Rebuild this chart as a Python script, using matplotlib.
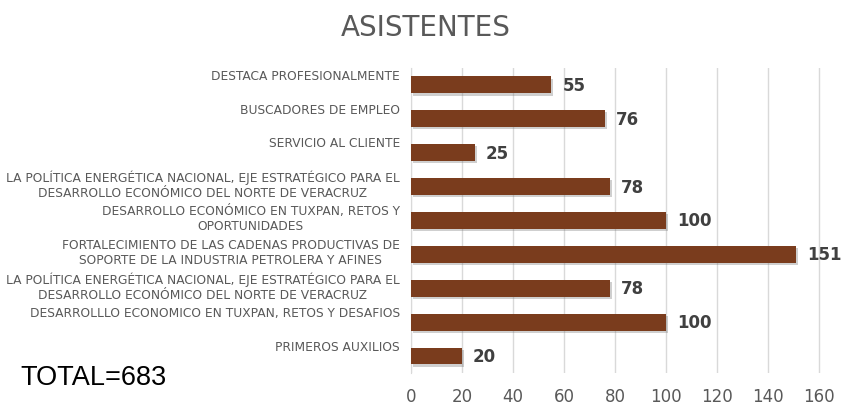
import matplotlib.pyplot as plt
import matplotlib.patheffects as pe

# data, top to bottom as in the chart
labels = [
    "DESTACA PROFESIONALMENTE",
    "BUSCADORES DE EMPLEO",
    "SERVICIO AL CLIENTE",
    "LA POLÍTICA ENERGÉTICA NACIONAL, EJE ESTRATÉGICO PARA EL\nDESARROLLO ECONÓMICO DEL NORTE DE VERACRUZ",
    "DESARROLLO ECONÓMICO EN TUXPAN, RETOS Y\nOPORTUNIDADES",
    "FORTALECIMIENTO DE LAS CADENAS PRODUCTIVAS DE\nSOPORTE DE LA INDUSTRIA PETROLERA Y AFINES",
    "LA POLÍTICA ENERGÉTICA NACIONAL, EJE ESTRATÉGICO PARA EL\nDESARROLLO ECONÓMICO DEL NORTE DE VERACRUZ",
    "DESARROLLLO ECONOMICO EN TUXPAN, RETOS Y DESAFIOS",
    "PRIMEROS AUXILIOS",
]
asistentes = [55, 76, 25, 78, 100, 151, 78, 100, 20]
xticks = [0, 20, 40, 60, 80, 100, 120, 140, 160]

plt.rcParams['font.family'] = ['DejaVu Sans']

fig = plt.figure(figsize=(8.43, 4.06), dpi=100)
ax = fig.add_axes([0.4875, 0.079, 0.4870, 0.751])

ypos = list(range(len(labels)))[::-1]
bars = ax.barh(ypos, asistentes, height=0.5, color='#7A3C1D', zorder=3)
for b in bars:
    b.set_path_effects([pe.SimplePatchShadow(offset=(1.5, -1.5), shadow_rgbFace='#777777', alpha=0.35),
                        pe.Normal()])

for y, v in zip(ypos, asistentes):
    ax.annotate(str(v), xy=(v, y), xytext=(8, 0), textcoords='offset points',
                ha='left', va='center', fontsize=12, fontweight='bold',
                color='#404040', annotation_clip=False)

# category labels sit a bit above the bars
for y, lab in zip(ypos, labels):
    dy = 1.5 if '\n' in lab else 7
    ax.annotate(lab, xy=(0, y), xycoords=('axes fraction', 'data'),
                xytext=(-8, dy), textcoords='offset points',
                ha='right', va='center', multialignment='center',
                fontsize=8.8, color='#595959', linespacing=1.2)

ax.set_xlim(0, 161)
ax.set_ylim(-0.5, len(labels) - 0.5)
ax.set_xticks(xticks)
ax.set_yticks([])
ax.tick_params(axis='x', length=0, pad=10, labelsize=12, labelcolor='#595959')
ax.grid(axis='x', color='#D9D9D9', linewidth=1, zorder=0)
for s in ['top', 'right', 'bottom']:
    ax.spines[s].set_visible(False)
ax.spines['left'].set_color('#D9D9D9')

fig.text(0.505, 0.93, "ASISTENTES", ha='center', va='center', fontsize=20, color='#595959')
fig.text(0.024, 0.07, "TOTAL=683", ha='left', va='center', fontsize=19.5,
         color='black', family='Liberation Sans')

fig.savefig('out.png', dpi=100)
